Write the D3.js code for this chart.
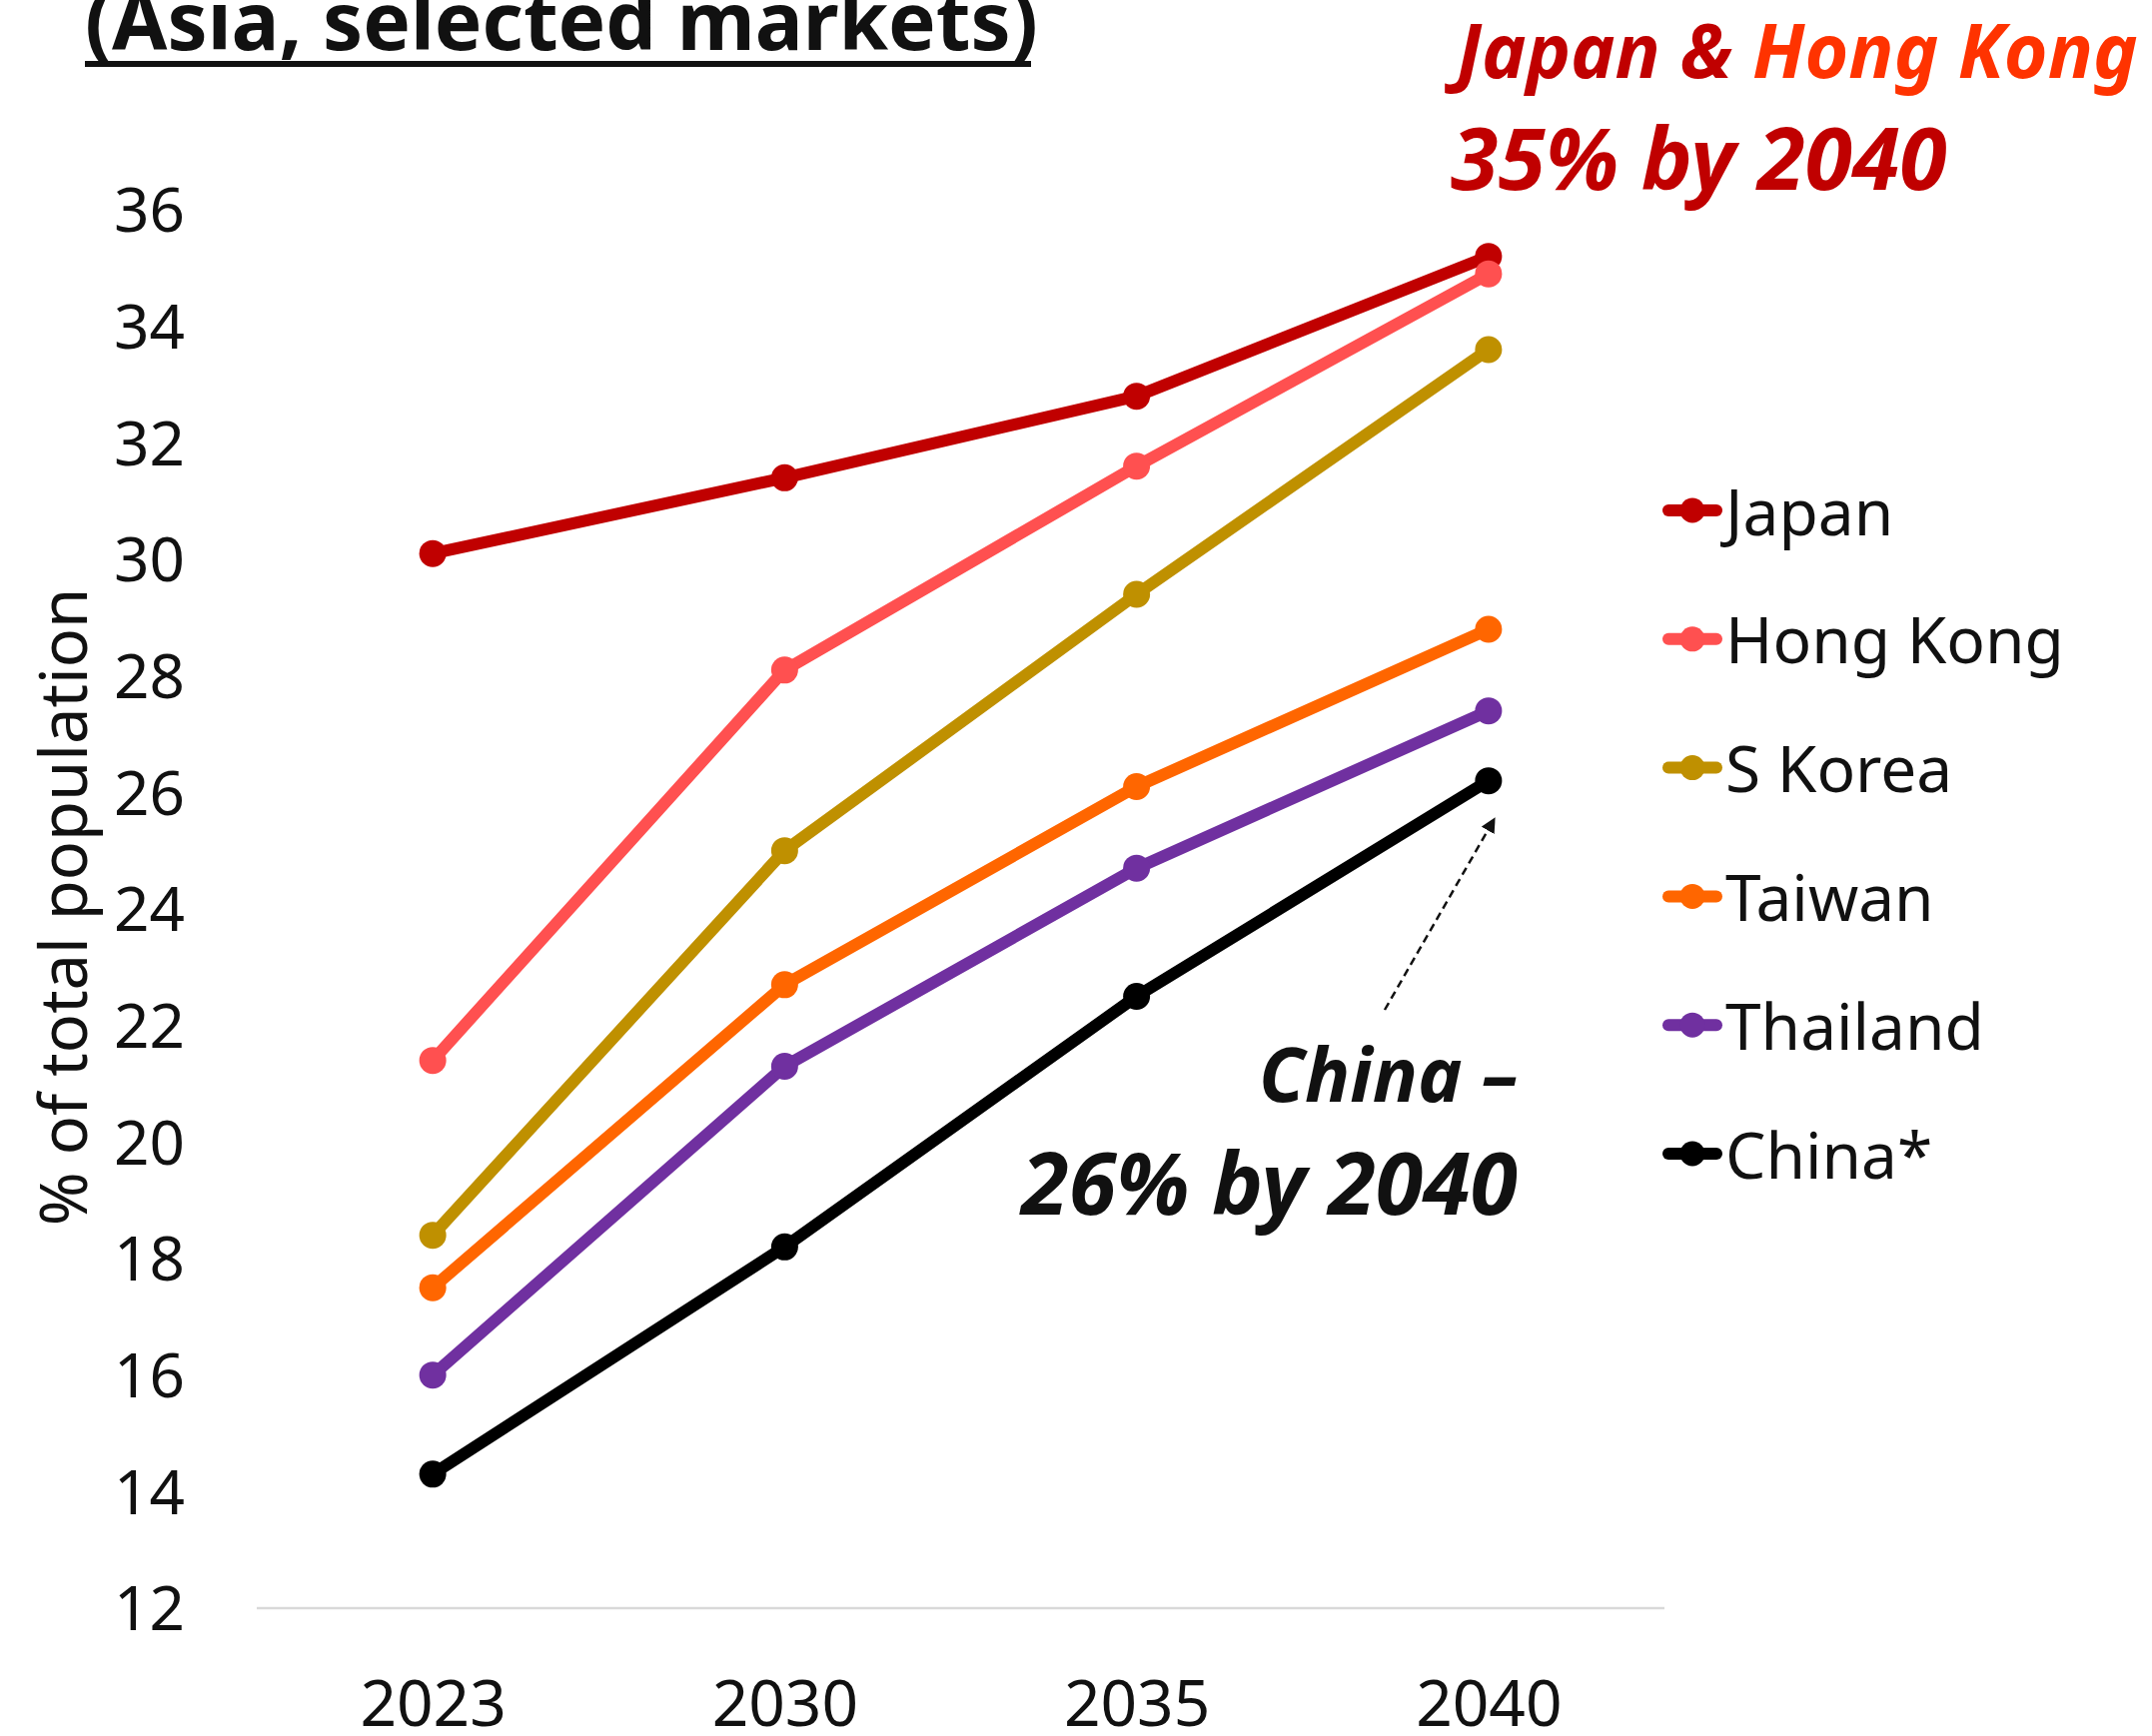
<!DOCTYPE html>
<html>
<head>
<meta charset="utf-8">
<script src="https://cdn.jsdelivr.net/npm/d3@7"></script>
<style>
  html, body { margin: 0; padding: 0; background: #ffffff; }
  svg { display: block; }
  text { font-family: "Noto Sans", "Open Sans", sans-serif; }
</style>
</head>
<body>
<svg id="chart" width="2154" height="1738"></svg>
<script>
// Share of population aged 65+ (% of total population)
const years = ["2023", "2030", "2035", "2040"];
const japan    = [30.1, 31.4, 32.8, 35.2];
const hongKong = [21.4, 28.1, 31.6, 34.9];
const sKorea   = [18.4, 25.0, 29.4, 33.6];
const taiwan   = [17.5, 22.7, 26.1, 28.8];
const thailand = [16.0, 21.3, 24.7, 27.4];
const china    = [14.3, 18.2, 22.5, 26.2];
const yTicks = [12, 14, 16, 18, 20, 22, 24, 26, 28, 30, 32, 34, 36];

const seriesNames  = ["Japan", "Hong Kong", "S Korea", "Taiwan", "Thailand", "China*"];
const seriesValues = [japan, hongKong, sKorea, taiwan, thailand, china];
const seriesColors = ["#C00000", "#FF5050", "#BF9000", "#FF6600", "#7030A0", "#000000"];

const series = seriesNames.map((name, i) => ({
  name, color: seriesColors[i],
  points: years.map((yr, j) => ({ year: yr, value: seriesValues[i][j] }))
}));

const svg = d3.select("#chart");

const x = d3.scalePoint().domain(years).range([257, 1666]).padding(0.5);
const y = d3.scaleLinear().domain([12, 36]).range([1610, 210]);

// Title (partially above the visible area)
svg.append("text")
  .attr("x", 85).attr("y", 50)
  .attr("font-size", 80).attr("font-weight", 700)
  .attr("fill", "#111")
  .text("(Asia, selected markets)");
svg.append("line")
  .attr("x1", 85).attr("x2", 1032)
  .attr("y1", 64).attr("y2", 64)
  .attr("stroke", "#111").attr("stroke-width", 6);

// Baseline at the bottom of the value axis
svg.append("line")
  .attr("x1", 257).attr("x2", 1666)
  .attr("y1", y(12)).attr("y2", y(12))
  .attr("stroke", "#D9D9D9").attr("stroke-width", 2.5);

// Y axis (labels only)
const yAxis = svg.append("g")
  .attr("transform", "translate(185,0)")
  .call(d3.axisLeft(y).tickValues(yTicks).tickSize(0).tickPadding(0).tickFormat(d3.format("d")));
yAxis.select(".domain").remove();
yAxis.selectAll("text")
  .attr("font-family", "'Noto Sans', sans-serif")
  .attr("font-size", 62).attr("fill", "#111").attr("dy", "0.35em");

// X axis (labels only)
const xAxis = svg.append("g")
  .attr("transform", `translate(0,${y(12)})`)
  .call(d3.axisBottom(x).tickSize(0).tickPadding(0));
xAxis.select(".domain").remove();
xAxis.selectAll("text")
  .attr("font-family", "'Noto Sans', sans-serif")
  .attr("font-size", 64).attr("fill", "#111")
  .attr("y", 96).attr("dy", "0.35em");

// Y axis title
svg.append("text")
  .attr("transform", "translate(62,908) rotate(-90)")
  .attr("text-anchor", "middle").attr("dominant-baseline", "central")
  .attr("font-size", 65).attr("fill", "#111")
  .text("% of total population");

// Lines and markers
const line = d3.line().x(d => x(d.year)).y(d => y(d.value));
const g = svg.append("g");
series.forEach(s => {
  g.append("path")
    .datum(s.points)
    .attr("d", line)
    .attr("fill", "none")
    .attr("stroke", s.color)
    .attr("stroke-width", 12)
    .attr("stroke-linejoin", "round");
  g.selectAll(null)
    .data(s.points)
    .enter().append("circle")
    .attr("cx", d => x(d.year))
    .attr("cy", d => y(d.value))
    .attr("r", 13.5)
    .attr("fill", s.color);
});

// Legend
const legendY = d3.scaleLinear().domain([0, seriesNames.length - 1]).range([511, 1155]);
const legend = svg.append("g");
series.forEach((s, i) => {
  const ly = legendY(i);
  legend.append("line")
    .attr("x1", 1670).attr("x2", 1718)
    .attr("y1", ly).attr("y2", ly)
    .attr("stroke", s.color).attr("stroke-width", 12)
    .attr("stroke-linecap", "round");
  legend.append("circle")
    .attr("cx", 1694).attr("cy", ly).attr("r", 12.5).attr("fill", s.color);
  legend.append("text")
    .attr("x", 1727).attr("y", ly)
    .attr("dominant-baseline", "central")
    .attr("font-size", 64).attr("fill", "#111")
    .text(s.name);
});

// Callout: Japan & Hong Kong
const call1 = svg.append("text")
  .attr("x", 1458).attr("y", 78)
  .attr("font-size", 75).attr("font-weight", 700).attr("font-style", "italic");
call1.append("tspan").attr("fill", "#C00000").text("Japan & ");
call1.append("tspan").attr("fill", "#FF3300").text("Hong Kong");
svg.append("text")
  .attr("x", 1452).attr("y", 190)
  .attr("font-size", 86).attr("font-weight", 700).attr("font-style", "italic")
  .attr("fill", "#C00000")
  .text(`${Math.round(japan[3])}% by ${years[3]}`);

// Callout: China
svg.append("text")
  .attr("x", 1519).attr("y", 1103).attr("text-anchor", "end")
  .attr("font-size", 75).attr("font-weight", 700).attr("font-style", "italic")
  .attr("fill", "#111")
  .text("China –");
svg.append("text")
  .attr("x", 1519).attr("y", 1216).attr("text-anchor", "end")
  .attr("font-size", 86).attr("font-weight", 700).attr("font-style", "italic")
  .attr("fill", "#111")
  .text(`${Math.round(china[3])}% by ${years[3]}`);

// Dashed pointer to the China 2040 point
svg.append("defs").append("marker")
  .attr("id", "arrowhead")
  .attr("viewBox", "0 0 10 10")
  .attr("refX", 9).attr("refY", 5)
  .attr("markerWidth", 6).attr("markerHeight", 6)
  .attr("orient", "auto")
  .append("path").attr("d", "M0,0 L10,5 L0,10 Z").attr("fill", "#111");
svg.append("line")
  .attr("x1", 1386).attr("y1", 1011)
  .attr("x2", x(years[3]) + 6).attr("y2", y(china[3]) + 38)
  .attr("stroke", "#111").attr("stroke-width", 2.5)
  .attr("stroke-dasharray", "8,5")
  .attr("marker-end", "url(#arrowhead)");
</script>
</body>
</html>
